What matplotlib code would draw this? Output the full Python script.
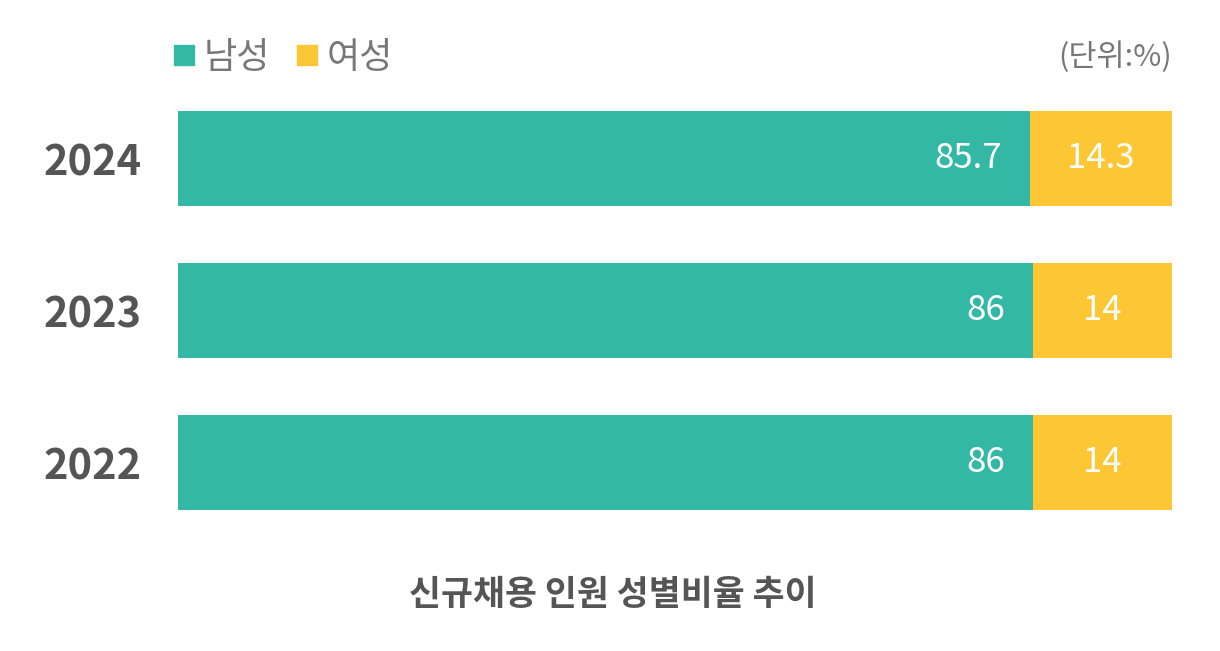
import matplotlib
matplotlib.use("Agg")
import matplotlib.pyplot as plt
from matplotlib.lines import Line2D

plt.rcParams['font.family'] = ['Noto Sans CJK KR', 'DejaVu Sans']

years = ['2022', '2023', '2024']
male = [86, 86, 85.7]
female = [14, 14, 14.3]
male_labels = ['86', '86', '85.7']
female_labels = ['14', '14', '14.3']
series_names = ['남성', '여성']
title = '신규채용 인원 성별비율 추이'
unit = '(단위:%)'

teal = '#33B8A5'
yellow = '#FDC634'
gray_text = '#777777'
dark_text = '#555555'

fig = plt.figure(figsize=(12.2, 6.51), dpi=100)
ax = fig.add_axes([178 / 1220, 1 - 510 / 651, 994 / 1220, 399 / 651])

ypos = list(range(len(years)))
h = 0.625
ax.barh(ypos, male, height=h, color=teal)
ax.barh(ypos, female, left=male, height=h, color=yellow)

for y, m, f, ml, fl in zip(ypos, male, female, male_labels, female_labels):
    ax.annotate(ml, (m, y), xytext=(-20, 0), textcoords='offset points',
                ha='right', va='center', color='white', fontsize=25, fontweight='light')
    ax.text(m + f / 2, y, fl, ha='center', va='center', color='white',
            fontsize=25, fontweight='light')

ax.set_xlim(0, 100)
ax.set_ylim(-h / 2, len(years) - 1 + h / 2)
ax.set_yticks(ypos)
ax.set_yticklabels(years, fontsize=30, fontweight='bold', color=dark_text)
ax.tick_params(axis='y', length=0, pad=26)
ax.set_xticks([])
for s in ax.spines.values():
    s.set_visible(False)

handles = [Line2D([], [], marker='s', linestyle='none', markersize=14.5, color=c)
           for c in (teal, yellow)]
leg = fig.legend(handles, series_names, loc='center left', bbox_to_anchor=(166 / 1220, 1 - 58 / 651),
                 ncol=2, frameon=False, fontsize=26, handletextpad=0.05, columnspacing=0.5,
                 handlelength=1.0, borderaxespad=0, borderpad=0)
for t in leg.get_texts():
    t.set_color(gray_text)
    t.set_fontweight('light')

fig.text(1172 / 1220, 1 - 57 / 651, unit, ha='right', va='center', fontsize=22,
         color=gray_text, fontweight='light')
fig.text(613 / 1220, 1 - 595 / 651, title, ha='center', va='center', fontsize=25,
         fontweight='bold', color=dark_text)

fig.savefig('out.png', dpi=100)
